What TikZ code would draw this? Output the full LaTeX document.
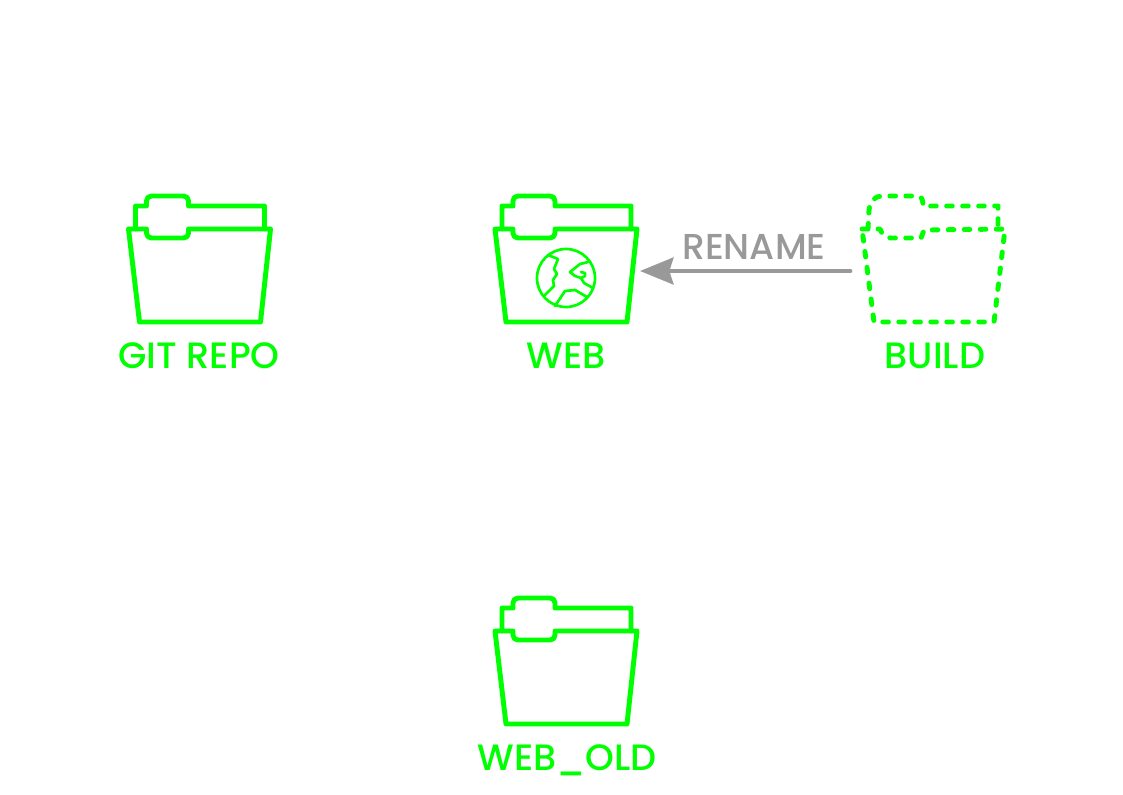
\documentclass[tikz,border=0pt]{standalone}
\usepackage{fontspec}
\setmainfont{Poppins Medium}
\usetikzlibrary{arrows.meta}
\definecolor{lime}{HTML}{00FF00}
\definecolor{labelgray}{HTML}{999999}
\tikzset{
  px/.style={x=0.75pt,y=-0.75pt},
  folderline/.style={draw=lime,line width=3.7pt,line join=round,line cap=round},
  dashline/.style={draw=lime,line width=3.7pt,line cap=round,line join=round,dash pattern=on 4.2pt off 7.8pt},
  globeline/.style={draw=lime,line width=2pt,line join=round,line cap=round},
  folderbox/.style={minimum width=108pt,minimum height=94pt,inner sep=0pt},
  caption/.style={text=lime,font=\fontsize{27.5}{28}\selectfont,inner sep=0pt,anchor=base},
  renamelabel/.style={text=labelgray,font=\fontsize{27}{28}\selectfont,inner sep=0pt,anchor=base},
  flow/.style={draw=labelgray,line width=3.7pt,line cap=round,line join=miter,-{Stealth[length=25pt,width=20pt,inset=3pt]}},
  pics/folder/.style={code={
    \draw[folderline] (-64,0) -- (-64,-23) -- (-53,-23) -- (-53,-28) .. controls (-53,-31) and (-51,-33) .. (-48,-33) -- (-16,-33) .. controls (-13,-33) and (-11,-31) .. (-11,-28) -- (-11,-23) -- (65,-23) -- (65,0);
    \draw[folderline] (-71,0) -- (-53,0) -- (-53,4) .. controls (-53,7) and (-51,9) .. (-48,9) -- (-16,9) .. controls (-13,9) and (-11,7) .. (-11,4) -- (-11,0) -- (71,0) -- (61,93) -- (-60,93) -- cycle;
  }}
}
\begin{document}
\begin{tikzpicture}[px]
\useasboundingbox (0,0) rectangle (1123,794);
% git repo
\pic at (199.5,229) {folder};
\node[folderbox] (git) at (199.5,260) {};
\node[caption] (gitlabel) at (199,368) {GIT REPO};
% web
\pic at (566,229) {folder};
\node[folderbox] (web) at (566,271) {};
\node[caption] (weblabel) at (566,368) {WEB};
\draw[globeline] (566,278) circle[radius=29];
\draw[globeline] (548,255) -- (558,259) -- (554,269) -- (557,274) -- (553,280) -- (554,286) -- (545,295);
\draw[globeline] (555,306) -- (565,291) -- (575,290) -- (587,297);
\draw[globeline] (588,262) -- (580,264) -- (575,268) -- (570,272) -- (575,276) -- (581,278) -- (585,276) -- (585,273) -- (581,272);
\draw[globeline] (581,278) -- (584,283) -- (593,288);
% build
\draw[dashline] (868,229) -- (869,210) .. controls (870,201) and (875,196) .. (882,196) -- (917,196) .. controls (922,196) and (923,200) .. (923,206) -- (998,206) -- (998,228);
\draw[dashline] (862,229) -- (880,229) .. controls (882,235) and (886,238) .. (891,238) -- (921,238) -- (924,230) -- (1005,229) -- (994,322) -- (874,322) -- cycle;
\node[folderbox] (build) at (934,271) {};
\node[caption] (buildlabel) at (935,368) {BUILD};
% web_old
\pic at (566,631) {folder};
\node[caption] (oldlabel) at (567,770) {WEB\_OLD};
% arrow
\draw[flow] (build.west -| 850,271) -- (640,271);
\node[renamelabel] (renamelab) at (754,259) {RENAME};
\end{tikzpicture}
\end{document}
